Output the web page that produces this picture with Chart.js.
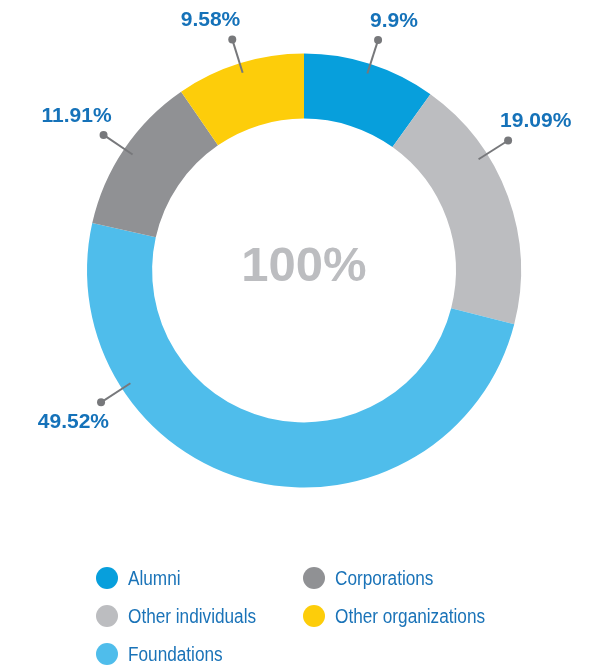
<!DOCTYPE html>
<html>
<head>
<meta charset="utf-8">
<script src="https://cdn.jsdelivr.net/npm/chart.js@4/dist/chart.umd.min.js"></script>
<style>
  html, body { margin: 0; padding: 0; background: #fff; }
  #wrap { position: relative; width: 608px; height: 665px; }
  #grafico { position: absolute; left: 0; top: 0; }
  #legenda {
    position: absolute; left: 96px; top: 564px;
    display: grid; grid-template-rows: repeat(3, 38px);
    grid-auto-flow: column; grid-template-columns: 207px 200px;
    font-family: 'Liberation Sans Narrow', 'Liberation Sans', sans-serif;
    font-size: 20px; color: #1a73b8;
  }
  .item { display: flex; align-items: center; height: 28px; white-space: nowrap; }
  .bola { width: 22px; height: 22px; border-radius: 50%; margin-right: 10px; flex: none; }
  .nome { display: inline-block; transform: scaleX(0.86); transform-origin: left center; }
</style>
</head>
<body>
<div id="wrap">
  <canvas id="grafico" width="608" height="665"></canvas>
  <div id="legenda"></div>
</div>
<script>
// dados
const CATEGORIAS = ['Alumni', 'Other individuals', 'Foundations', 'Corporations', 'Other organizations'];
const VALORES = [9.9, 19.09, 49.52, 11.91, 9.58];
const CORES = ['#079fdc', '#bcbdc0', '#4fbdeb', '#909194', '#fdcd0a'];
const TEXTO_CENTRO = '100%';

// rótulos com linha de chamada e bolinha
const pluginRotulos = {
  id: 'rotulos',
  afterDatasetsDraw(chart, args, opts) {
    const { ctx } = chart;
    const meta = chart.getDatasetMeta(0);
    meta.data.forEach((arc, i) => {
      const cx = arc.x, cy = arc.y;
      let ang = (arc.startAngle + arc.endAngle) / 2;
      if (opts.angulos[i] != null) ang = opts.angulos[i] * Math.PI / 180 - Math.PI / 2;
      const rOut = arc.outerRadius + 25;
      const rIn = arc.outerRadius - 10;
      const dx = cx + Math.cos(ang) * rOut, dy = cy + Math.sin(ang) * rOut;
      const ix = cx + Math.cos(ang) * rIn, iy = cy + Math.sin(ang) * rIn;
      ctx.save();
      ctx.strokeStyle = '#77787b';
      ctx.lineWidth = 2;
      ctx.beginPath(); ctx.moveTo(ix, iy); ctx.lineTo(dx, dy); ctx.stroke();
      ctx.fillStyle = '#77787b';
      ctx.beginPath(); ctx.arc(dx, dy, 4, 0, Math.PI * 2); ctx.fill();
      ctx.font = 'bold 21px "Liberation Sans", sans-serif';
      ctx.fillStyle = '#1572b9';
      ctx.textBaseline = 'middle';
      const direita = dx > cx;
      ctx.textAlign = direita ? 'left' : 'right';
      const ty = dy < cy ? dy - 19 : dy + 20;
      ctx.fillText(VALORES[i] + '%', direita ? dx - 8 : dx + 8, ty);
      ctx.restore();
    });
  }
};

const pluginCentro = {
  id: 'centro',
  afterDraw(chart) {
    const { ctx } = chart;
    const arc = chart.getDatasetMeta(0).data[0];
    ctx.save();
    ctx.font = 'bold 49px "Liberation Sans", sans-serif';
    ctx.fillStyle = '#bcbdc0';
    ctx.textAlign = 'center';
    ctx.textBaseline = 'middle';
    ctx.fillText(TEXTO_CENTRO, arc.x, arc.y - 3);
    ctx.restore();
  }
};

new Chart(document.getElementById('grafico'), {
  type: 'doughnut',
  data: {
    labels: CATEGORIAS,
    datasets: [{
      data: VALORES,
      backgroundColor: CORES,
      borderWidth: 0
    }]
  },
  options: {
    responsive: false,
    animation: false,
    cutout: '70%',
    layout: { padding: { top: 53, bottom: 177, left: 87, right: 87 } },
    plugins: {
      legend: { display: false },
      tooltip: { enabled: false },
      rotulos: { angulos: [null, 57.5, 237, null, null] }
    }
  },
  plugins: [pluginRotulos, pluginCentro]
});

// legenda em duas colunas
const legenda = document.getElementById('legenda');
CATEGORIAS.forEach((nome, i) => {
  const item = document.createElement('div');
  item.className = 'item';
  item.innerHTML = `<span class="bola" style="background:${CORES[i]}"></span><span class="nome">${nome}</span>`;
  legenda.appendChild(item);
});
</script>
</body>
</html>
